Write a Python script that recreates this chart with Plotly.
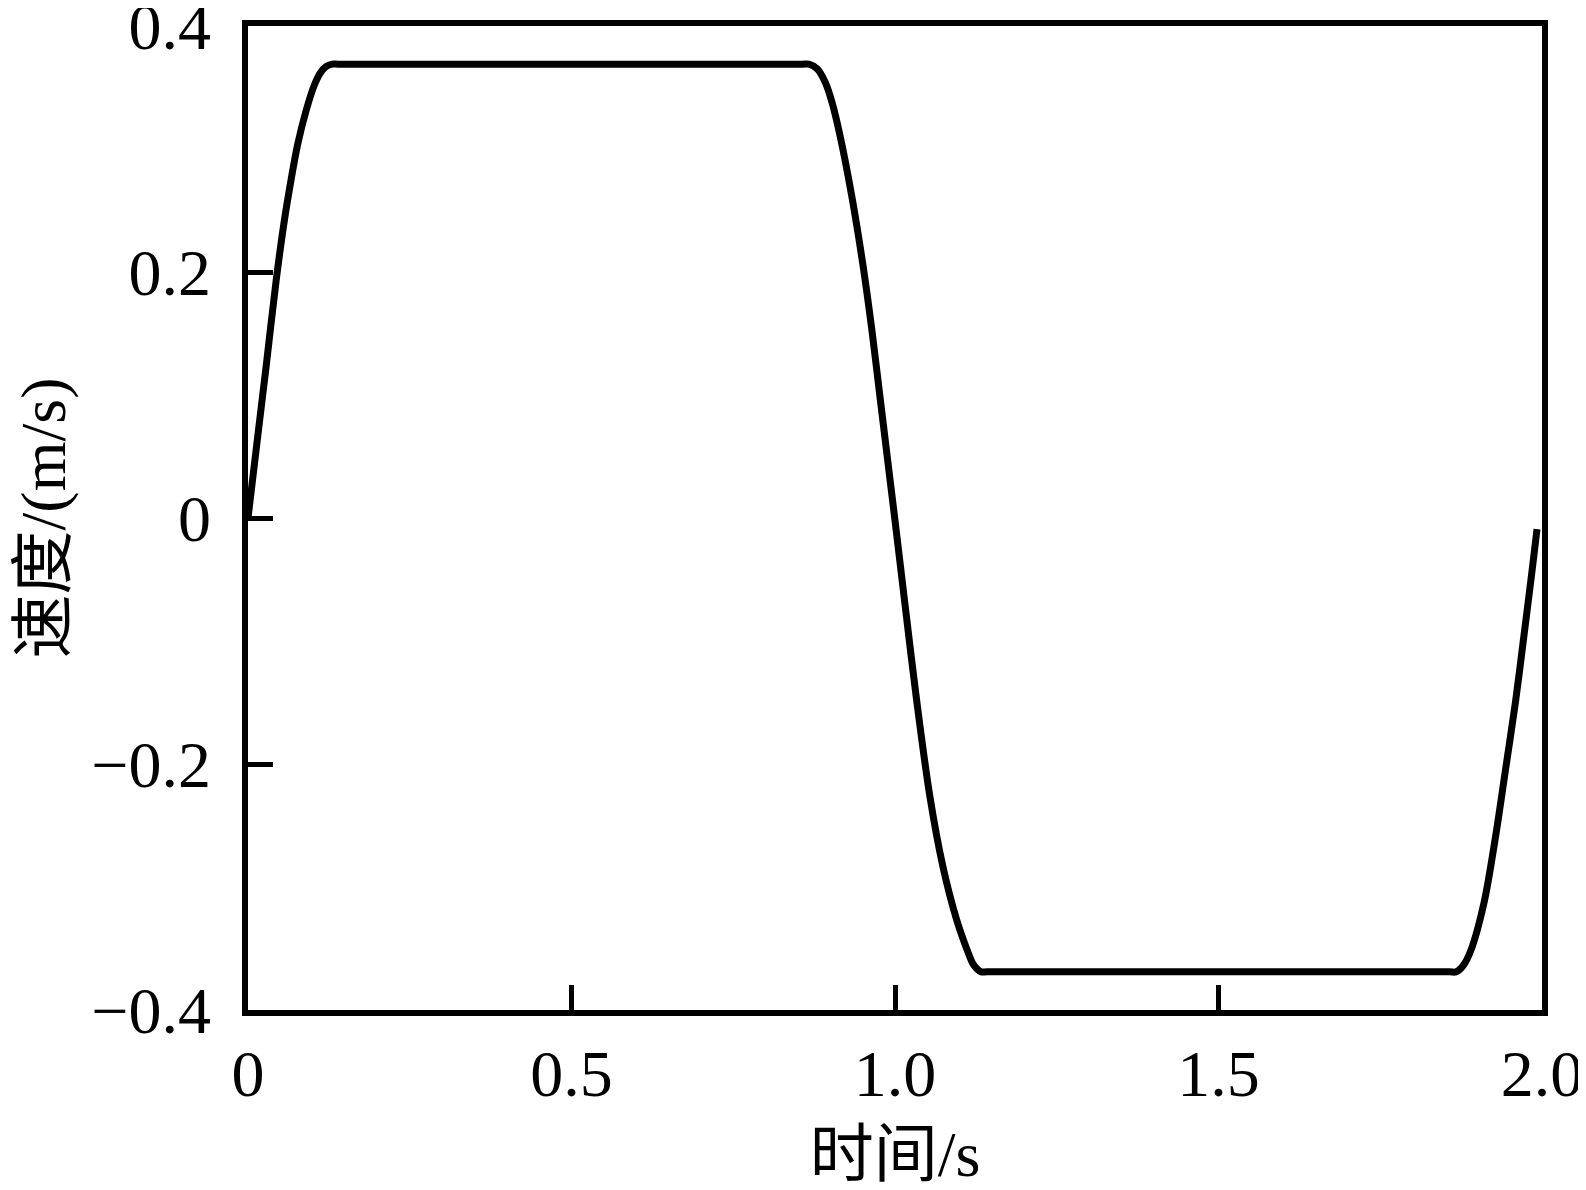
import plotly.graph_objects as go

# Values
time_s = [0.000, 0.0154, 0.0282, 0.0435, 0.0565, 0.0669, 0.0769, 0.0897, 0.1026, 0.1120, 0.1205, 0.130,
          0.140, 0.857,
          0.867, 0.8800, 0.8923, 0.9026, 0.9154, 0.9334, 0.9512, 0.9642, 0.9769, 0.9912, 1.000,
          1.0154, 1.0334, 1.0538, 1.0743, 1.0949, 1.1128, 1.1200, 1.1257, 1.1330,
          1.143, 1.857,
          1.867, 1.8780, 1.8897, 1.9103, 1.9282, 1.9435, 1.9589, 1.9718, 1.9846, 1.9923]
velocity = [0.000, 0.068, 0.124, 0.193, 0.243, 0.276, 0.304, 0.331, 0.352, 0.362, 0.367, 0.369,
            0.369, 0.369,
            0.369, 0.365, 0.354, 0.338, 0.310, 0.261, 0.203, 0.153, 0.098, 0.036, -0.002,
            -0.070, -0.148, -0.226, -0.284, -0.326, -0.353, -0.362, -0.366, -0.369,
            -0.369, -0.369,
            -0.369, -0.364, -0.352, -0.313, -0.259, -0.205, -0.150, -0.097, -0.043, -0.009]

x_ticks = [0, 0.5, 1.0, 1.5, 2.0]
x_ticktext = ["0", "0.5", "1.0", "1.5", "2.0"]
y_ticks = [-0.4, -0.2, 0, 0.2, 0.4]
y_ticktext = ["\u22120.4", "\u22120.2", "0", "0.2", "0.4"]

FONT = "Liberation Serif, 'Times New Roman', 'Noto Sans CJK SC', serif"

fig = go.Figure()
fig.add_trace(go.Scatter(
    x=time_s, y=velocity, mode="lines",
    line=dict(color="black", width=7, shape="spline", smoothing=0.9),
    showlegend=False, hoverinfo="skip",
))

axis_common = dict(
    showline=True, linecolor="black", linewidth=5.5, mirror=True,
    ticks="inside", ticklen=25, tickwidth=5, tickcolor="black",
    showgrid=False, zeroline=False,
    ticklabeloverflow="allow", automargin=False,
    tickfont=dict(family=FONT, size=66, color="black"),
)

fig.update_layout(
    width=1578, height=1182,
    margin=dict(l=240, r=44, t=18, b=180, autoexpand=False),
    paper_bgcolor="white", plot_bgcolor="white",
    xaxis=dict(range=[0, 2.0], tickvals=x_ticks, ticktext=x_ticktext,
               ticklabelstandoff=1,
               title=dict(text="时间/s", font=dict(family=FONT, size=64, color="black"), standoff=49),
               **axis_common),
    yaxis=dict(range=[-0.4, 0.4], tickvals=y_ticks, ticktext=y_ticktext,
               ticklabelstandoff=18,
               title=dict(text="速度/(m/s)", font=dict(family=FONT, size=64, color="black"), standoff=54),
               **axis_common),
)

fig.write_html("out.html")
